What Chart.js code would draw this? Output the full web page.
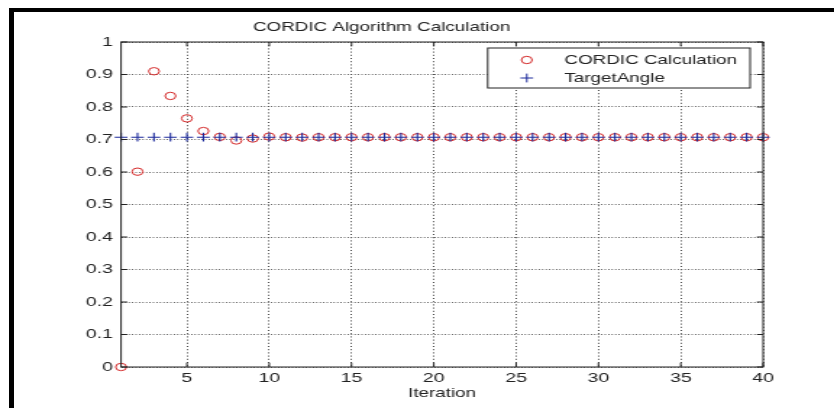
<!DOCTYPE html>
<html>
<head>
<meta charset="utf-8">
<title>CORDIC Algorithm Calculation</title>
<script src="https://cdn.jsdelivr.net/npm/chart.js@4.4.1/dist/chart.umd.min.js"></script>
<style>
  html, body { margin: 0; padding: 0; background: #fff; overflow: hidden; }
  /* the reference is a MATLAB figure stretched sideways, so draw narrow and stretch */
  #stretch { position: absolute; left: 0; top: 0; width: 576px; height: 408px; transform: scaleX(1.448); transform-origin: 0 0; }
  #frame { position: absolute; left: 9px; top: 8px; width: 900px; height: 500px; border-top: 4px solid #000; border-left: 5px solid #000; pointer-events: none; }
</style>
</head>
<body>
<div id="stretch"><canvas id="chart"></canvas></div>
<div id="frame"></div>
<script>
const iterations = [1, 2, 3, 4, 5, 6, 7, 8, 9, 10, 11, 12, 13, 14, 15, 16, 17, 18, 19, 20,
  21, 22, 23, 24, 25, 26, 27, 28, 29, 30, 31, 32, 33, 34, 35, 36, 37, 38, 39, 40]
const cordicValues = [0, 0.601, 0.910, 0.834, 0.765, 0.726, 0.708, 0.697, 0.703, 0.709,
  0.707, 0.706, 0.707, 0.707, 0.707, 0.707, 0.707, 0.707, 0.707, 0.707,
  0.707, 0.707, 0.707, 0.707, 0.707, 0.707, 0.707, 0.707, 0.707, 0.707,
  0.707, 0.707, 0.707, 0.707, 0.707, 0.707, 0.707, 0.707, 0.707, 0.707]
const targetAngle = [0.7071, 0.7071, 0.7071, 0.7071, 0.7071, 0.7071, 0.7071, 0.7071, 0.7071, 0.7071,
  0.7071, 0.7071, 0.7071, 0.7071, 0.7071, 0.7071, 0.7071, 0.7071, 0.7071, 0.7071,
  0.7071, 0.7071, 0.7071, 0.7071, 0.7071, 0.7071, 0.7071, 0.7071, 0.7071, 0.7071,
  0.7071, 0.7071, 0.7071, 0.7071, 0.7071, 0.7071, 0.7071, 0.7071, 0.7071, 0.7071]
const xTicks = [5, 10, 15, 20, 25, 30, 35, 40]
const yTicks = [0, 0.1, 0.2, 0.3, 0.4, 0.5, 0.6, 0.7, 0.8, 0.9, 1]
const seriesNames = ["CORDIC Calculation", "TargetAngle"]

const RED = "#d42a2a"
const BLUE = "#1c2a9c"
const INK = "#222"
const FONT = "'Liberation Sans', Arial, sans-serif"

const toPoints = (values) => iterations.map((x, i) => ({ x, y: values[i] }))

// MATLAB style box with inward ticks on all four sides
const axesBox = {
  id: "axesBox",
  afterDatasetsDraw(chart) {
    const { ctx, chartArea: a, scales } = chart
    const len = 4.3
    ctx.save()
    ctx.strokeStyle = INK
    ctx.lineWidth = 1
    ctx.strokeRect(a.left, a.top, a.right - a.left, a.bottom - a.top)
    ctx.beginPath()
    xTicks.forEach((v) => {
      const x = scales.x.getPixelForValue(v)
      ctx.moveTo(x, a.bottom); ctx.lineTo(x, a.bottom - len)
      ctx.moveTo(x, a.top); ctx.lineTo(x, a.top + len)
    })
    yTicks.forEach((v) => {
      const y = scales.y.getPixelForValue(v)
      ctx.moveTo(a.left, y); ctx.lineTo(a.left + len, y)
      ctx.moveTo(a.right, y); ctx.lineTo(a.right - len, y)
    })
    ctx.stroke()
    ctx.restore()
  },
}

const boxLegend = {
  id: "boxLegend",
  afterDraw(chart) {
    const { ctx, chartArea: a } = chart
    const sets = chart.data.datasets
    ctx.save()
    ctx.font = `13px ${FONT}`
    const textW = Math.max(...seriesNames.map((n) => ctx.measureText(n).width))
    const w = textW + 62
    const h = 40
    const right = a.right - 9
    const top = a.top + 6
    const left = right - w
    ctx.fillStyle = "#fff"
    ctx.fillRect(left, top, w, h)
    ctx.strokeStyle = INK
    ctx.lineWidth = 1
    ctx.strokeRect(left, top, w, h)

    const mx = left + 27
    const tx = left + 53
    const rows = [top + 12, top + 30]
    // circle marker
    ctx.strokeStyle = sets[0].borderColor
    ctx.beginPath()
    ctx.arc(mx, rows[0], sets[0].pointRadius, 0, Math.PI * 2)
    ctx.stroke()
    // plus marker
    const r = sets[1].pointRadius
    ctx.strokeStyle = sets[1].borderColor
    ctx.beginPath()
    ctx.moveTo(mx - r, rows[1]); ctx.lineTo(mx + r, rows[1])
    ctx.moveTo(mx, rows[1] - r); ctx.lineTo(mx, rows[1] + r)
    ctx.stroke()

    ctx.fillStyle = INK
    ctx.textBaseline = "middle"
    seriesNames.forEach((n, i) => ctx.fillText(n, tx, rows[i]))
    ctx.restore()
  },
}

new Chart(document.getElementById("chart"), {
  type: "scatter",
  data: {
    datasets: [
      {
        label: seriesNames[0],
        data: toPoints(cordicValues),
        pointStyle: "circle",
        pointRadius: 3.7,
        borderColor: RED,
        backgroundColor: "rgba(0,0,0,0)",
        borderWidth: 1,
        order: 1,
        clip: false,
      },
      {
        label: seriesNames[1],
        data: toPoints(targetAngle),
        pointStyle: "cross",
        pointRadius: 4.4,
        borderColor: BLUE,
        backgroundColor: BLUE,
        borderWidth: 1.1,
        order: 0,
        clip: false,
      },
    ],
  },
  options: {
    responsive: true,
    maintainAspectRatio: false,
    animation: false,
    layout: { padding: { left: 0, right: 49, top: 0, bottom: 0 } },
    scales: {
      x: {
        type: "linear",
        min: 1,
        max: 40,
        afterBuildTicks: (scale) => { scale.ticks = xTicks.map((value) => ({ value })) },
        afterFit: (scale) => { scale.height = 41 },
        grid: { color: "#444", lineWidth: 1, drawTicks: false },
        border: { display: false, dash: [1, 2.2] },
        ticks: { padding: 3, color: INK, font: { family: FONT, size: 13.5 }, maxRotation: 0 },
        title: { display: true, text: "Iteration", color: INK, font: { family: FONT, size: 13 }, padding: { top: 0, bottom: 7 } },
      },
      y: {
        type: "linear",
        min: 0,
        max: 1,
        afterBuildTicks: (scale) => { scale.ticks = yTicks.map((value) => ({ value })) },
        afterFit: (scale) => { scale.width = 83.6 },
        grid: { color: "#444", lineWidth: 1, drawTicks: false },
        border: { display: false, dash: [0.8, 1.6] },
        ticks: {
          padding: 5.6,
          color: INK,
          font: { family: FONT, size: 13.5 },
          callback: (value) => String(Math.round(value * 10) / 10),
        },
      },
    },
    plugins: {
      legend: { display: false },
      tooltip: { enabled: false },
      title: {
        display: true,
        text: "CORDIC Algorithm Calculation",
        color: INK,
        font: { family: FONT, size: 13, weight: "normal" },
        padding: { top: 20, bottom: 6.4 },
      },
    },
  },
  plugins: [axesBox, boxLegend],
})
</script>
</body>
</html>
